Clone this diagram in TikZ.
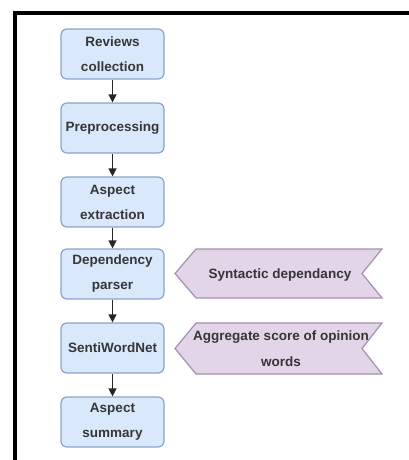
\documentclass[tikz,border=0pt]{standalone}
\usepackage{fontspec}
\setmainfont{Liberation Sans}
\usetikzlibrary{arrows.meta}
\definecolor{boxfill}{HTML}{DAE8FC}
\definecolor{boxline}{HTML}{8AA4C8}
\definecolor{ribfill}{HTML}{E1D5E7}
\definecolor{ribline}{HTML}{A48FB0}
\definecolor{txt}{HTML}{363636}
\tikzset{
  stepbox/.style={draw=boxline, fill=boxfill, line width=1.2pt, rounded corners=6pt,
    minimum width=103pt, minimum height=50pt, inner sep=0pt, align=center,
    text=txt, font=\fontsize{13.5pt}{25pt}\selectfont\bfseries},
  ribtext/.style={inner sep=0pt, align=center, text=txt,
    font=\fontsize{13.5pt}{26pt}\selectfont\bfseries},
  ribbon/.style={draw=ribline, fill=ribfill, line width=1.2pt, line join=miter},
  flow/.style={draw=black!85, line width=1.3pt, -{Triangle[width=8pt,length=8pt]}},
  frame/.style={draw=black, line width=4pt}
}
\begin{document}
\begin{tikzpicture}[x=1pt,y=-1pt]
\useasboundingbox (0,0) rectangle (409,460);
\draw[frame] (15,462) -- (15,13) -- (411,13);
% ribbons
\draw[ribbon] (196,249) -- (382,249) -- (362,273.5) -- (382,298) -- (196,298) -- (175,273.5) -- cycle;
\draw[ribbon] (196,323) -- (382,323) -- (362,348.5) -- (382,374) -- (196,374) -- (175,348.5) -- cycle;
\node[ribtext] (r1) at (280,275) {Syntactic dependancy};
\node[ribtext] (r2) at (281,349) {Aggregate score of opinion\\words};
% flow boxes
\node[stepbox] (n1) at (112.5,54) {Reviews\\collection};
\node[stepbox] (n2) at (112.5,128) {Preprocessing};
\node[stepbox] (n3) at (112.5,202) {Aspect\\extraction};
\node[stepbox] (n4) at (112.5,274) {Dependency\\parser};
\node[stepbox] (n5) at (112.5,348) {SentiWordNet};
\node[stepbox] (n6) at (112.5,422) {Aspect\\summary};
\draw[flow] (n1) -- (n2);
\draw[flow] (n2) -- (n3);
\draw[flow] (n3) -- (n4);
\draw[flow] (n4) -- (n5);
\draw[flow] (n5) -- (n6);
\end{tikzpicture}
\end{document}
